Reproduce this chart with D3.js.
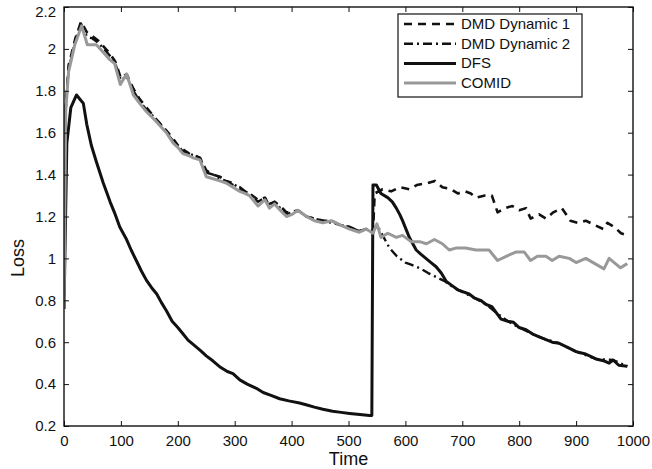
<!DOCTYPE html>
<html><head><meta charset="utf-8">
<script src="https://cdn.jsdelivr.net/npm/d3@7"></script>
<style>body{margin:0;background:#fff}svg{display:block}text{font-family:"Liberation Sans",Arial,sans-serif;fill:#111}</style>
</head><body>
<svg id="c" width="652" height="469"></svg>
<script>
const xTicks = [0,100,200,300,400,500,600,700,800,900,1000];
const yTicks = [0.2,0.4,0.6,0.8,1,1.2,1.4,1.6,1.8,2,2.2];
const seriesNames = ["DMD Dynamic 1","DMD Dynamic 2","DFS","COMID"];

const tDmd1 = [0,3,8,20,30,40,50,60,70,80,90,100,110,122,133,145,160,170,180,192,200,209,220,230,239,250,262,274,285,297,309,318,326,341,353,361,370,380,391,401,411,426,440,455,470,485,502,519,531,543,546,560,575,590,607,620,639,652,665,680,692,705,715,724,740,752,762,775,788,800,812,820,835,847,860,875,890,903,917,932,948,955,967,979,990];
const dmd1 = [0.76,1.72,1.92,2.05,2.13,2.08,2.06,2.04,2.01,1.98,1.94,1.86,1.88,1.81,1.76,1.72,1.67,1.64,1.61,1.57,1.54,1.52,1.50,1.49,1.48,1.42,1.40,1.39,1.37,1.35,1.34,1.32,1.31,1.28,1.29,1.25,1.27,1.25,1.22,1.22,1.23,1.20,1.19,1.18,1.18,1.16,1.15,1.13,1.14,1.12,1.31,1.33,1.32,1.34,1.33,1.35,1.36,1.37,1.34,1.33,1.31,1.32,1.31,1.29,1.30,1.30,1.22,1.24,1.25,1.23,1.24,1.19,1.21,1.19,1.22,1.24,1.18,1.17,1.18,1.16,1.14,1.17,1.15,1.12,1.11];

const tDmd2 = [0,3,8,20,30,40,50,60,70,80,90,100,110,122,133,145,160,170,180,192,200,209,220,230,239,250,262,274,285,297,309,318,326,341,353,361,370,380,391,401,411,426,440,455,470,485,502,519,531,543,550,560,572,585,600,610,628,640,655,670,685,700,722,742,760,780,800,823,845,870,900,935,965,990];
const dmd2 = [0.76,1.71,1.90,2.04,2.12,2.06,2.05,2.03,2.00,1.97,1.93,1.85,1.87,1.80,1.75,1.71,1.67,1.64,1.60,1.56,1.54,1.51,1.50,1.49,1.48,1.41,1.40,1.38,1.37,1.36,1.33,1.32,1.31,1.27,1.29,1.26,1.27,1.24,1.21,1.22,1.23,1.20,1.19,1.18,1.17,1.16,1.15,1.13,1.14,1.13,1.16,1.11,1.05,1.01,0.98,0.97,0.95,0.93,0.91,0.89,0.86,0.84,0.81,0.78,0.74,0.70,0.67,0.64,0.615,0.595,0.555,0.52,0.515,0.485];

const tDfs = [0,5,12,22,28,34,40,48,57,69,81,90,98,110,118,127,136,145,154,163,171,180,190,200,209,218,227,240,250,262,275,287,297,309,322,338,350,365,379,395,414,427,440,455,472,487,502,520,537,541,543,549,557,569,577,584,590,595,601,607,613,619,627,636,645,654,663,672,682,692,702,712,722,732,742,752,760,768,780,790,800,812,823,835,845,858,870,885,900,915,935,950,958,965,975,990];
const dfs = [0.76,1.55,1.72,1.78,1.76,1.74,1.64,1.54,1.46,1.36,1.27,1.21,1.15,1.09,1.04,0.99,0.94,0.895,0.86,0.83,0.79,0.75,0.70,0.67,0.64,0.61,0.59,0.56,0.535,0.51,0.48,0.46,0.45,0.42,0.40,0.38,0.36,0.345,0.33,0.32,0.31,0.30,0.29,0.28,0.27,0.265,0.26,0.255,0.25,0.25,1.35,1.35,1.31,1.29,1.27,1.24,1.21,1.18,1.14,1.10,1.07,1.04,1.02,1.00,0.98,0.96,0.93,0.89,0.87,0.85,0.84,0.83,0.81,0.80,0.78,0.77,0.74,0.71,0.70,0.695,0.67,0.66,0.64,0.625,0.615,0.60,0.595,0.575,0.555,0.545,0.52,0.51,0.50,0.515,0.49,0.485];

const tComid = [0,3,8,19,31,41,57,70,80,89,99,110,122,133,145,160,170,180,192,200,209,220,227,239,250,262,274,285,297,309,318,326,341,353,361,370,380,391,401,411,426,440,455,470,485,502,519,531,543,550,557,569,584,595,610,625,637,651,665,677,690,706,724,747,762,777,794,809,820,832,847,858,870,888,900,917,933,949,958,978,990];
const comid = [0.76,1.70,1.89,2.02,2.11,2.02,2.02,1.98,1.95,1.93,1.83,1.88,1.78,1.74,1.70,1.66,1.63,1.60,1.55,1.53,1.50,1.49,1.48,1.47,1.39,1.38,1.37,1.36,1.34,1.32,1.31,1.30,1.25,1.28,1.24,1.26,1.23,1.20,1.21,1.23,1.20,1.18,1.17,1.18,1.16,1.14,1.125,1.14,1.12,1.165,1.10,1.12,1.10,1.11,1.08,1.08,1.07,1.09,1.07,1.04,1.05,1.05,1.04,1.04,0.99,1.01,1.03,1.03,0.99,1.01,1.01,0.99,1.01,1.00,0.98,1.00,0.975,0.95,1.00,0.955,0.975];

const styles = [
  {t:tDmd1, v:dmd1, color:"#111", w:2.6, dash:"8,6"},
  {t:tDmd2, v:dmd2, color:"#111", w:2.4, dash:"9,4,2,4"},
  {t:tDfs, v:dfs, color:"#111", w:3, dash:null},
  {t:tComid, v:comid, color:"#999", w:3, dash:null}
];

const L=64, R=633, T=7, B=426;
const x = d3.scaleLinear().domain([0,1000]).range([L,R]);
const y = d3.scaleLinear().domain([0.2,2.2]).range([B,T]);
const svg = d3.select("#c");

svg.append("clipPath").attr("id","cp").append("rect").attr("x",L).attr("y",T).attr("width",R-L).attr("height",B-T);
const line = d3.line().x(d=>x(d[0])).y(d=>y(d[1]));
const g = svg.append("g").attr("clip-path","url(#cp)");
styles.forEach(s=>{
  const pts = s.t.map((t,i)=>[t,s.v[i]]);
  g.append("path").datum(pts).attr("d",line).attr("fill","none")
   .attr("stroke",s.color).attr("stroke-width",s.w).attr("stroke-linejoin","round")
   .attr("stroke-dasharray",s.dash);
});

const ax = svg.append("g").attr("transform",`translate(0,${B})`)
  .call(d3.axisBottom(x).tickValues(xTicks).tickSize(-5).tickPadding(9).tickFormat(d3.format("d")));
const axT = svg.append("g").attr("transform",`translate(0,${T})`)
  .call(d3.axisTop(x).tickValues(xTicks).tickSize(-5).tickFormat(""));
const ay = svg.append("g").attr("transform",`translate(${L},0)`)
  .call(d3.axisLeft(y).tickValues(yTicks).tickSize(-5).tickPadding(8).tickFormat(d=>String(+d.toFixed(1))));
const ayR = svg.append("g").attr("transform",`translate(${R},0)`)
  .call(d3.axisRight(y).tickValues(yTicks).tickSize(-5).tickFormat(""));
[ax,axT,ay,ayR].forEach(a=>{
  a.selectAll(".domain").remove();
  a.selectAll("line").attr("stroke","#111").attr("stroke-width",1);
  a.selectAll("text").style("font-size","15px").attr("fill","#111");
});
ay.selectAll(".tick").filter(d=>d===2.2).select("text").attr("dy","0.65em");
svg.append("rect").attr("x",L).attr("y",T).attr("width",R-L).attr("height",B-T)
  .attr("fill","none").attr("stroke","#111").attr("stroke-width",1.4);

svg.append("text").attr("x",(L+R)/2).attr("y",465).attr("text-anchor","middle").style("font-size","18px").text("Time");
svg.append("text").attr("transform","translate(24,258) rotate(-90)").attr("text-anchor","middle").style("font-size","18px").text("Loss");

const lg = svg.append("g");
lg.append("rect").attr("x",398).attr("y",14).attr("width",184).attr("height",83).attr("fill","#fff").attr("stroke","#111").attr("stroke-width",1.2);
seriesNames.forEach((n,i)=>{
  const yy = 24 + i*19.7;
  const s = styles[i];
  lg.append("line").attr("x1",404).attr("x2",456).attr("y1",yy).attr("y2",yy)
    .attr("stroke",s.color).attr("stroke-width",s.w).attr("stroke-dasharray",s.dash);
  lg.append("text").attr("x",461).attr("y",yy+5).style("font-size","15px").text(n);
});
</script>
</body></html>
